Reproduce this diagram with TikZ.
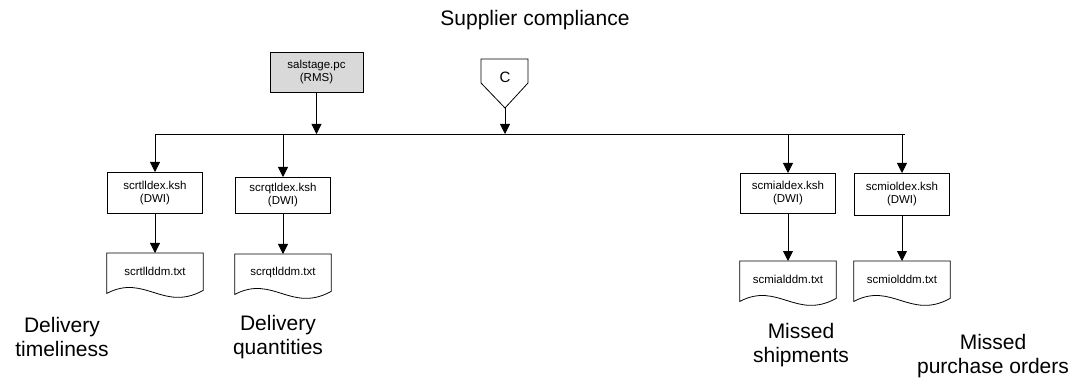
\documentclass[tikz,border=0pt]{standalone}
\usepackage{fontspec}
\setmainfont{Liberation Sans}
\usepackage{xcolor}
\definecolor{StageGray}{HTML}{D9D9D9}
\usepackage{tikz}
\usetikzlibrary{arrows.meta}

\begin{document}
\begin{tikzpicture}[x=1pt,y=-1pt,every node/.style={font=\fontsize{11.5}{13}\selectfont},
  arr/.style={-{Triangle[width=10pt,length=10pt]}, line width=0.8pt},
  jobbox/.style={draw, line width=0.8pt, minimum width=95pt, minimum height=40pt, align=center, inner sep=1pt, anchor=north},
  filebox/.style={minimum width=96pt, minimum height=37pt, inner sep=1pt, anchor=north},
  caption/.style={font=\fontsize{21}{24}\selectfont, align=center}]
  \useasboundingbox (0,0) rectangle (1075,379);
  \node[caption] (title) at (535,20) {Supplier compliance};
  \node[jobbox, fill=StageGray, minimum width=93pt] (sal) at (316.5,52) {salstage.pc\\(RMS)};
  % off-page connector
  \draw[line width=0.8pt] (481,59) -- (528,59) -- (528,83) -- (505,108) coordinate (conntip) -- (481,83) -- cycle;
  \node[font=\fontsize{15}{15}\selectfont] (conn) at (505,77) {C};
  \coordinate (busL) at (155,134);
  \coordinate (busR) at (905,134);
  \draw[line width=0.8pt] (busL) -- (busR);
  \draw[arr] (sal.south) -- (sal.south |- busL);
  \draw[arr] (conntip) -- (conntip |- busL);
  \foreach \i/\x/\btop/\bh/\dtop/\jobtxt/\filetxt in {1/155/172/41/253/scrtlldex/scrtllddm,2/283/177/36/254/scrqtldex/scrqtlddm,3/788/173/40/261/scmialdex/scmialddm,4/902/173/42/261/scmioldex/scmiolddm}{
    \node[jobbox, minimum height=\bh pt] (job\i) at (\x,\btop) {\jobtxt.ksh\\(DWI)};
    \node[filebox] (file\i) at (\x,\dtop) {\filetxt.txt};
    \draw[line width=0.8pt] (file\i.north west) -- (file\i.north east) -- (file\i.south east)
      .. controls +(-40,22) and +(38,-20) .. ([yshift=-3pt]file\i.south west) -- cycle;
    \draw[arr] (job\i.north |- busL) -- (job\i.north);
    \draw[arr] (job\i.south) -- (file\i.north);
  }
  \node[caption] (lab1) at (62,337) {Delivery\\timeliness};
  \node[caption] (lab2) at (278,337) {Delivery\\quantities};
  \node[caption] (lab3) at (801,345) {Missed\\shipments};
  \node[caption] (lab4) at (993,356) {Missed\\purchase orders};
\end{tikzpicture}
\end{document}
